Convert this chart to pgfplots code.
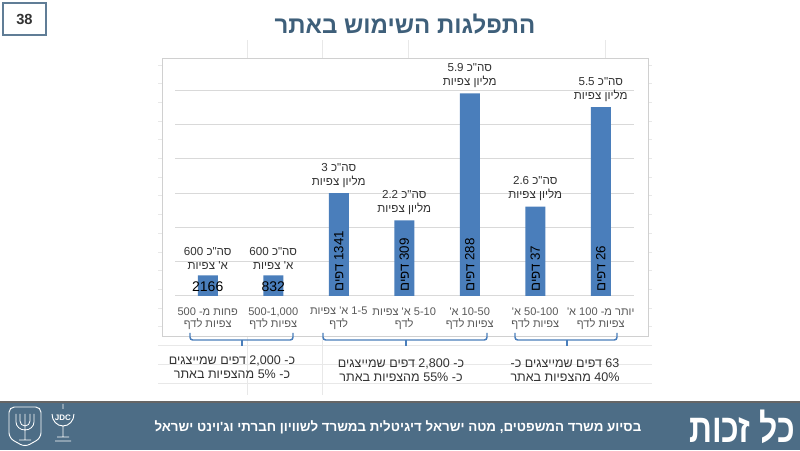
\documentclass[border=0pt]{standalone}
\usepackage{graphicx}
\usepackage{pgfplots}
\pgfplotsset{compat=1.18}
\usepackage{fontspec}
\setmainfont{Liberation Sans}
\newfontfamily\heb[Script=Hebrew]{Liberation Sans}
\TeXXeTstate=1
\definecolor{barblue}{RGB}{74,126,187}
\definecolor{gridgray}{RGB}{217,217,217}
\definecolor{framegray}{RGB}{208,208,208}
\definecolor{faint}{RGB}{232,232,232}
\definecolor{labelgray}{RGB}{89,89,89}
\definecolor{darktext}{RGB}{50,50,50}
\definecolor{titleblue}{RGB}{62,95,122}
\definecolor{footerblue}{RGB}{77,109,134}
\definecolor{boxblue}{RGB}{96,125,150}
\begin{document}
\begin{tikzpicture}[x=0.75pt,y=0.75pt]
\useasboundingbox (0,0) rectangle (800,450);
\fill[white] (0,0) rectangle (800,450);
% faint spreadsheet lines
\foreach \yy in {105,86,67} {\draw[faint, line width=0.6pt] (158,\yy) -- (652,\yy);}
\foreach \xx in {247,322} {\draw[faint, line width=0.6pt] (\xx,113) -- (\xx,55);}
\foreach \xx in {247,322,408,605} {\draw[faint, line width=0.6pt] (\xx,391) -- (\xx,410);}
\foreach \k in {0,...,14} {
  \draw[faint, line width=0.6pt] (158,{385-18.7*\k}) -- (162,{385-18.7*\k});
  \draw[faint, line width=0.6pt] (648,{385-18.7*\k}) -- (652,{385-18.7*\k});
}
% chart frame
\draw[draw=framegray, fill=white, line width=0.75pt] (162,113) rectangle (648,391);
\begin{axis}[
  at={(131.25pt,115.5pt)}, anchor=south west,
  scale only axis, width=343.9pt, height=154.5pt,
  xmin=-0.5, xmax=6.5, ymin=0, ymax=6,
  ybar, bar width=15pt,
  ytick={0,...,6}, yticklabels={},
  ymajorgrids, grid style={gridgray, line width=0.75pt},
  axis line style={draw=none}, major tick length=0pt,
  xtick={0,...,6},
  xticklabels={
    {\beginR פחות מ- 500\endR\\\beginR צפיות לדף\endR},
    {\beginR 500-1,000\endR\\\beginR צפיות לדף\endR},
    {\beginR 1-5 א' צפיות\endR\\\beginR לדף\endR},
    {\beginR 5-10 א' צפיות\endR\\\beginR לדף\endR},
    {\beginR 10-50 א'\endR\\\beginR צפיות לדף\endR},
    {\beginR 50-100 א'\endR\\\beginR צפיות לדף\endR},
    {\beginR יותר מ- 100 א'\endR\\\beginR צפיות לדף\endR}
  },
  xticklabel style={font=\heb\fontsize{8.3}{9.4}\selectfont, text=labelgray, align=center, yshift=-5pt},
  clip=false,
]
\addplot[fill=barblue, draw=none] coordinates {(0,0.6) (1,0.6) (2,3) (3,2.2) (4,5.9) (5,2.6) (6,5.5)};
% totals above bars
\tikzset{tot/.style={anchor=south, inner sep=0pt, yshift=4pt, align=center, text=darktext, font=\heb\fontsize{8.7}{10.5}\selectfont}}
\node[tot] at (axis cs:0,0.6) {\beginR סה"כ 600\endR\\\beginR א' צפיות\endR};
\node[tot] at (axis cs:1,0.6) {\beginR סה"כ 600\endR\\\beginR א' צפיות\endR};
\node[tot] at (axis cs:2,3) {\beginR סה"כ 3\endR\\\beginR מליון צפיות\endR};
\node[tot] at (axis cs:3,2.2) {\beginR סה"כ 2.2\endR\\\beginR מליון צפיות\endR};
\node[tot] at (axis cs:4,5.9) {\beginR סה"כ 5.9\endR\\\beginR מליון צפיות\endR};
\node[tot] at (axis cs:5,2.6) {\beginR סה"כ 2.6\endR\\\beginR מליון צפיות\endR};
\node[tot] at (axis cs:6,5.5) {\beginR סה"כ 5.5\endR\\\beginR מליון צפיות\endR};
% page counts in bars
\tikzset{cnt/.style={rotate=90, anchor=west, inner sep=0pt, text=black, font=\heb\fontsize{10}{12}\selectfont}}
\node[anchor=base, inner sep=0pt, font=\fontsize{10.5}{12}\selectfont] at (axis cs:0,0.12) {2166};
\node[anchor=base, inner sep=0pt, font=\fontsize{10.5}{12}\selectfont] at (axis cs:1,0.12) {832};
\node[cnt] at (axis cs:2,0.12) {\beginR 1341 דפים\endR};
\node[cnt] at (axis cs:3,0.12) {\beginR 309 דפים\endR};
\node[cnt] at (axis cs:4,0.12) {\beginR 288 דפים\endR};
\node[cnt] at (axis cs:5,0.12) {\beginR 37 דפים\endR};
\node[cnt] at (axis cs:6,0.12) {\beginR 26 דפים\endR};
\end{axis}
% brackets
\begin{scope}[barblue, line width=1.1pt, rounded corners=2pt]
\draw (190,117) -- (190,110) -- (293,110) -- (293,117);
\draw (242,110) -- (242,104);
\draw (323,117) -- (323,110) -- (487,110) -- (487,117);
\draw (406,110) -- (406,104);
\draw (515,117) -- (515,110) -- (617,110) -- (617,117);
\draw (567,110) -- (567,104);
\end{scope}
\tikzset{grp/.style={align=center, text=darktext, inner sep=0pt, font=\heb\fontsize{9.4}{10.3}\selectfont}}
\node[grp] at (232,82.5) {\beginR כ- 2,000 דפים שמייצגים\endR\\\beginR כ- 5\% מהצפיות באתר\endR};
\node[grp] at (401,80) {\beginR כ- 2,800 דפים שמייצגים\endR\\\beginR כ- 55\% מהצפיות באתר\endR};
\node[grp] at (565,80) {\beginR 63 דפים שמייצגים כ-\endR\\\beginR 40\% מהצפיות באתר\endR};
% title and page number
\node[text=titleblue, font=\heb\bfseries\fontsize{18}{20}\selectfont] at (405,426) {\beginR התפלגות השימוש באתר\endR};
\draw[boxblue, line width=1.1pt] (3,447) rectangle (46,415);
\node[text=darktext, font=\bfseries\fontsize{11}{12}\selectfont] at (24.5,431) {38};
% footer
\fill[footerblue] (0,0) rectangle (800,48);
\draw[black!60, line width=0.8pt] (0,48) -- (800,48);
\node[anchor=east, text=white, font=\heb\bfseries\fontsize{10}{12}\selectfont] at (646,23) {\beginR בסיוע משרד המשפטים, מטה ישראל דיגיטלית במשרד לשוויון חברתי וג'וינט ישראל\endR};
\node[anchor=east, text=white, inner sep=0pt, font=\heb\bfseries\fontsize{30}{32}\selectfont] at (795,23) {\scalebox{0.8}[1]{\beginR כל זכות\endR}};
% logos (simplified)
\draw[white, line width=0.7pt, rounded corners=4pt] (9,43) -- (41,43) -- (41,12) -- (25,3) -- (9,12) -- cycle;
\draw[white, line width=0.6pt] (25,10) -- (25,36) (16,36) -- (16,28) arc (180:360:9 and 8) -- (34,36) (20,36) -- (20,29) arc (180:360:5 and 5) -- (30,36) (19,10) -- (31,10);
\draw[white, line width=0.7pt] (52,36) arc (180:360:11 and 12) (55,9) -- (71,9) (57,13) -- (69,13) (63,24) -- (63,13) (63,41) -- (63,46);
\node[text=white, font=\bfseries\fontsize{6}{6}\selectfont] at (63,32) {JDC};
\end{tikzpicture}
\end{document}
